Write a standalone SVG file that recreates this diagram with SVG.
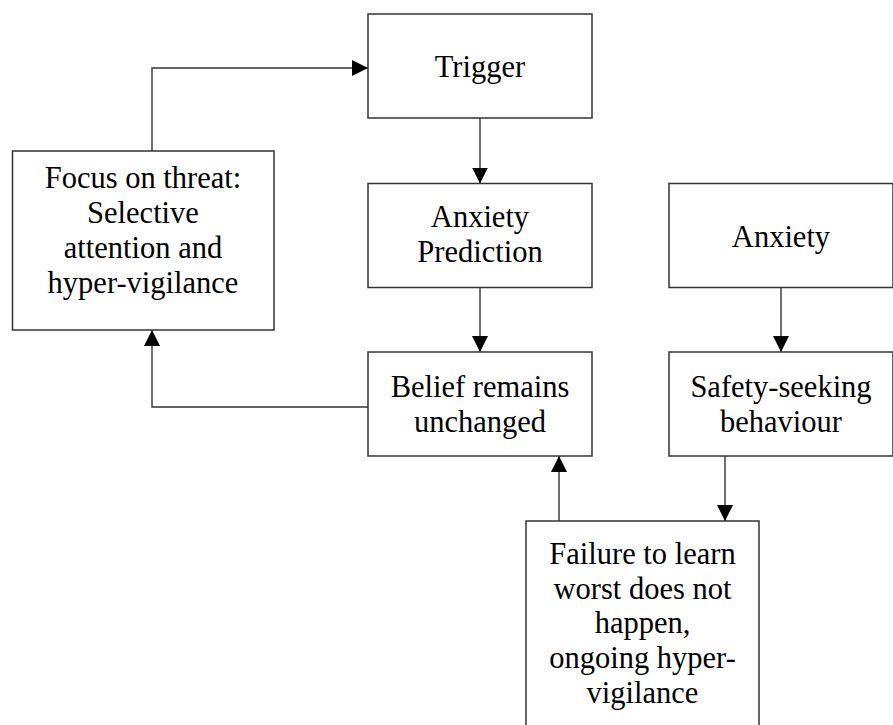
<svg xmlns="http://www.w3.org/2000/svg" width="893" height="725" viewBox="0 0 893 725">
  <defs>
    <style>
      .box { fill: #ffffff; stroke: #333333; stroke-width: 1.5; }
      .lbl { font-family: "Liberation Serif", "Times New Roman", serif; font-size: 30.5px; fill: #000000; text-anchor: middle; }
      .link { fill: none; stroke: #333333; stroke-width: 1.4; }
    </style>
    <marker id="arrow" markerUnits="userSpaceOnUse" markerWidth="16" markerHeight="16" viewBox="0 0 15 15" refX="15" refY="7.5" orient="auto">
      <path d="M0,0 L15,7.5 L0,15 Z" fill="#000000"/>
    </marker>
  </defs>
  <rect width="893" height="725" fill="#ffffff"/>

  <!-- connectors -->
  <g id="connectors">
    <path class="link" d="M152,151 V68 H368" marker-end="url(#arrow)"/>
    <path class="link" d="M480,118 V183.5" marker-end="url(#arrow)"/>
    <path class="link" d="M480,287.5 V352" marker-end="url(#arrow)"/>
    <path class="link" d="M368,407 H152 V330" marker-end="url(#arrow)"/>
    <path class="link" d="M781,287.5 V352" marker-end="url(#arrow)"/>
    <path class="link" d="M725,456 V521" marker-end="url(#arrow)"/>
    <path class="link" d="M559,521 V456" marker-end="url(#arrow)"/>
  </g>

  <!-- nodes -->
  <g id="focus">
    <rect class="box" x="12.5" y="151" width="261.5" height="179"/>
    <text class="lbl" x="143" y="188">Focus on threat:</text>
    <text class="lbl" x="143" y="223">Selective</text>
    <text class="lbl" x="143" y="258">attention and</text>
    <text class="lbl" x="143" y="293">hyper-vigilance</text>
  </g>
  <g id="trigger">
    <rect class="box" x="368" y="14" width="224" height="104"/>
    <text class="lbl" x="480" y="77">Trigger</text>
  </g>
  <g id="anxiety-prediction">
    <rect class="box" x="368" y="183.5" width="224" height="104"/>
    <text class="lbl" x="480" y="227">Anxiety</text>
    <text class="lbl" x="480" y="262">Prediction</text>
  </g>
  <g id="belief">
    <rect class="box" x="368" y="352" width="224" height="104"/>
    <text class="lbl" x="480" y="397">Belief remains</text>
    <text class="lbl" x="480" y="432">unchanged</text>
  </g>
  <g id="anxiety">
    <rect class="box" x="669" y="183.5" width="224" height="104"/>
    <text class="lbl" x="781" y="247">Anxiety</text>
  </g>
  <g id="safety">
    <rect class="box" x="669" y="352" width="224" height="104"/>
    <text class="lbl" x="781" y="397">Safety-seeking</text>
    <text class="lbl" x="781" y="432">behaviour</text>
  </g>
  <g id="failure">
    <rect class="box" x="526" y="521" width="233" height="220"/>
    <text class="lbl" x="642.5" y="564">Failure to learn</text>
    <text class="lbl" x="642.5" y="599">worst does not</text>
    <text class="lbl" x="642.5" y="633">happen,</text>
    <text class="lbl" x="642.5" y="668">ongoing hyper-</text>
    <text class="lbl" x="642.5" y="703">vigilance</text>
  </g>
</svg>
